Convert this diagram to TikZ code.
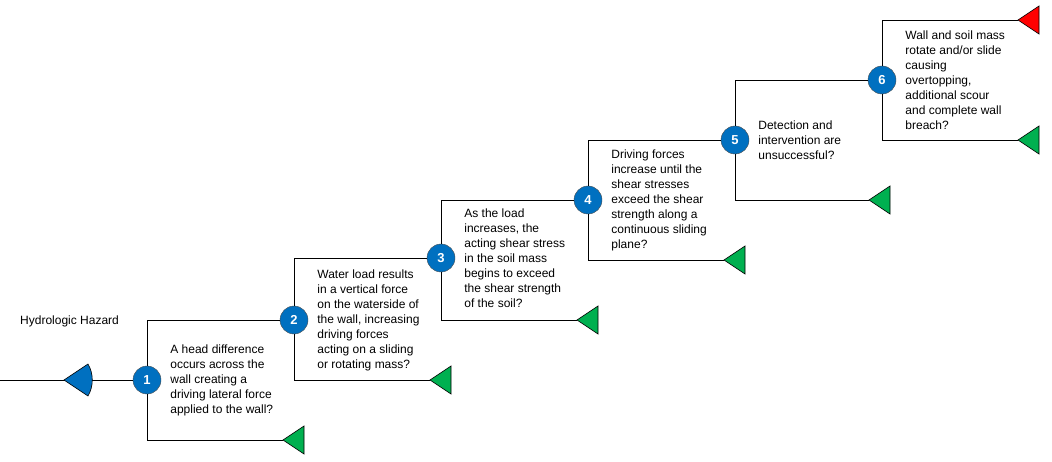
\documentclass[tikz,border=0pt]{standalone}
\usepackage{fontspec}
\setmainfont{Liberation Sans}
\usetikzlibrary{positioning}
\definecolor{stepblue}{RGB}{0, 112, 192}
\definecolor{endgreen}{RGB}{0, 176, 80}
\definecolor{endred}{RGB}{255, 0, 0}
\tikzset{
  stepnode/.style={draw=black!70, circle, fill=stepblue, text=white, font=\bfseries\fontsize{13}{13}\selectfont, minimum size=28pt, inner sep=0pt},
  desc/.style={anchor=west, align=left, font=\fontsize{12}{15}\selectfont, inner sep=0pt},
  wire/.style={draw, line width=0.8pt}
}
\newcommand{\flagtri}[2]{\filldraw[fill=#2, draw=black, line width=0.6pt] (#1) -- ++(21,-14) -- ++(0,28) -- cycle;}
\begin{document}
\begin{tikzpicture}[x=1pt, y=-1pt]
	\useasboundingbox (0,0) rectangle (1052,462);
	% Steps
	\node[stepnode] (S1) at (147,380) {1};
	\node[stepnode] (S2) at (294,320) {2};
	\node[stepnode] (S3) at (441,258) {3};
	\node[stepnode] (S4) at (588,200) {4};
	\node[stepnode] (S5) at (735,140) {5};
	\node[stepnode] (S6) at (882,80) {6};
	
	% Ends
	\coordinate (start) at (0,380);
	\coordinate (H) at (64,380);
	\coordinate (E1) at (283,440);
	\coordinate (E2) at (430,380);
	\coordinate (E3) at (577,320);
	\coordinate (E4) at (724,260);
	\coordinate (E5) at (869,200);
	\coordinate (E6) at (1018,140);
	\coordinate (R) at (1018,20);
	
	% Labels
	\node[desc] at (20,321) {Hydrologic Hazard};
	\node[desc, right=9pt of S1] {A head difference\\occurs across the\\wall creating a\\driving lateral force\\applied to the wall?};
	\node[desc, right=9pt of S2] {Water load results\\in a vertical force\\on the waterside of\\the wall, increasing\\driving forces\\acting on a sliding\\or rotating mass?};
	\node[desc, right=9pt of S3] {As the load\\increases, the\\acting shear stress\\in the soil mass\\begins to exceed\\the shear strength\\of the soil?};
	\node[desc, right=9pt of S4] {Driving forces\\increase until the\\shear stresses\\exceed the shear\\strength along a\\continuous sliding\\plane?};
	\node[desc, right=9pt of S5] {Detection and\\intervention are\\unsuccessful?};
	\node[desc, right=9pt of S6] {Wall and soil mass\\rotate and/or slide\\causing\\overtopping,\\additional scour\\and complete wall\\breach?};
	
	% Connectors
	\draw[wire] (start) -- (S1);
	\draw[wire] (S1) |- (S2);
	\draw[wire] (S1) |- (E1);
	\draw[wire] (S2) |- (S3);
	\draw[wire] (S2) |- (E2);
	\draw[wire] (S3) |- (S4);
	\draw[wire] (S3) |- (E3);
	\draw[wire] (S4) |- (S5);
	\draw[wire] (S4) |- (E4);
	\draw[wire] (S5) |- (S6);
	\draw[wire] (S5) |- (E5);
	\draw[wire] (S6) |- (R);
	\draw[wire] (S6) |- (E6);
	
	% Markers
	\filldraw[fill=stepblue, draw=black, line width=0.6pt] (H) -- ++(24,-16) arc[start angle=-30, end angle=30, radius=32] -- cycle;
	\flagtri{E1}{endgreen}
	\flagtri{E2}{endgreen}
	\flagtri{E3}{endgreen}
	\flagtri{E4}{endgreen}
	\flagtri{E5}{endgreen}
	\flagtri{E6}{endgreen}
	\flagtri{R}{endred}
\end{tikzpicture}
\end{document}
